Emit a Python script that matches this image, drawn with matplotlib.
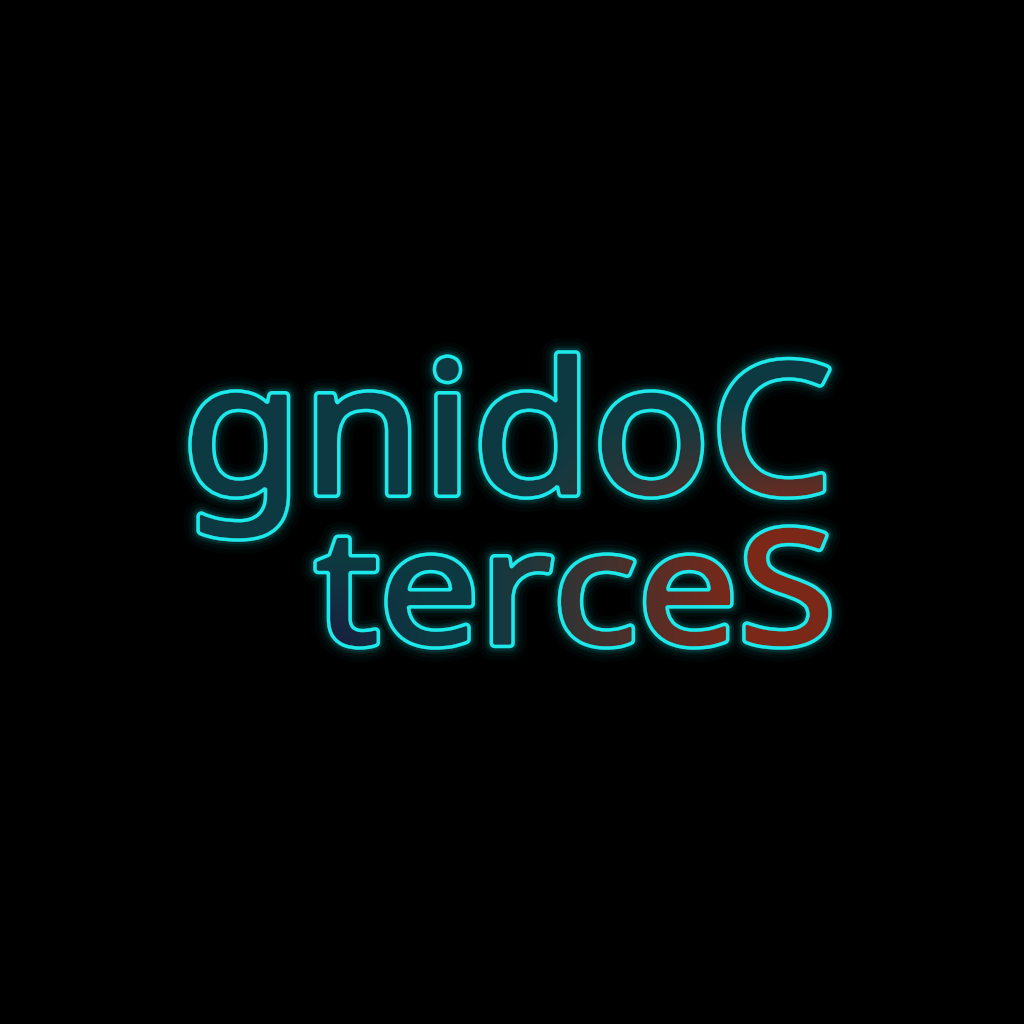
import numpy as np
from matplotlib import pyplot as plt
from matplotlib.textpath import TextPath
from matplotlib.font_manager import FontProperties
from matplotlib.patches import PathPatch
from matplotlib.path import Path
from matplotlib.colors import to_rgb
from matplotlib.transforms import Affine2D

# the two lines of (mirrored) text
lines = ["gnidoC", "terceS"]

# colours
bg = "#000000"
neon = "#1de8ea"
teal = np.array(to_rgb("#0d3a42"))
red = np.array(to_rgb("#7c2819"))
indigo = np.array(to_rgb("#1c1a40"))

W = 1024
prop = FontProperties(family="Noto Sans")

# target boxes in pixel coords (left, right, top, bottom) for each line
boxes = [(193, 827, 355, 537), (318, 827, 529, 645)]

paths = []
for text, (left, right, top, bottom) in zip(lines, boxes):
    tp = TextPath((0, 0), text, size=100, prop=prop)
    ext = tp.get_extents()
    sx = (right - left) / ext.width
    sy = (bottom - top) / ext.height
    tr = Affine2D().translate(-ext.x0, -ext.y0).scale(sx, sy).translate(left, W - bottom)
    paths.append(tr.transform_path(tp))

combined = Path.make_compound_path(*paths)

# only the regular weight is installed, so embolden by rendering a stroked mask
mfig = plt.figure(figsize=(10.24, 10.24), dpi=100, facecolor="black")
max_ = mfig.add_axes([0, 0, 1, 1])
max_.set_xlim(0, W)
max_.set_ylim(0, W)
max_.axis("off")
max_.add_patch(PathPatch(combined, facecolor="white", edgecolor="white", lw=4.4,
                         joinstyle="round"))
mfig.canvas.draw()
mask = np.asarray(mfig.canvas.buffer_rgba())[..., 0].astype(float) / 255.0
plt.close(mfig)

fig = plt.figure(figsize=(10.24, 10.24), dpi=100, facecolor=bg)
ax = fig.add_axes([0, 0, 1, 1])
ax.set_xlim(0, W)
ax.set_ylim(0, W)
ax.set_facecolor(bg)
ax.axis("off")

# gradient fill (teal -> red towards lower right, indigo at lower left)
yy, xx = np.mgrid[0:W, 0:W] + 0.5  # rows from top
shift = 0.5 * np.clip(560 - yy, 0, None)
r = np.clip((xx - 480 - shift) / 260, 0, 1) * np.clip((yy - 400) / 120, 0, 1)
b = np.clip((430 - xx) / 120, 0, 1) * np.clip((yy - 560) / 80, 0, 1)
rgb = teal + r[..., None] * (red - teal)
rgb = rgb + b[..., None] * (indigo - rgb)
rgba = np.dstack([rgb, mask])
ax.imshow(rgba, origin="upper", extent=(0, W, 0, W), interpolation="bilinear", zorder=2)

xs = np.arange(W) + 0.5
ys = W - (np.arange(W) + 0.5)

# glow
for lw, a in [(20, 0.025), (14, 0.045), (9, 0.07), (6, 0.1)]:
    ax.contour(xs, ys, mask, levels=[0.5], colors=[neon], linewidths=lw, alpha=a, zorder=1)

# neon outline
ax.contour(xs, ys, mask, levels=[0.5], colors=[neon], linewidths=2.6, zorder=3)

ax.set_xlim(0, W)
ax.set_ylim(0, W)
fig.savefig("out.png", dpi=100, facecolor=bg)
